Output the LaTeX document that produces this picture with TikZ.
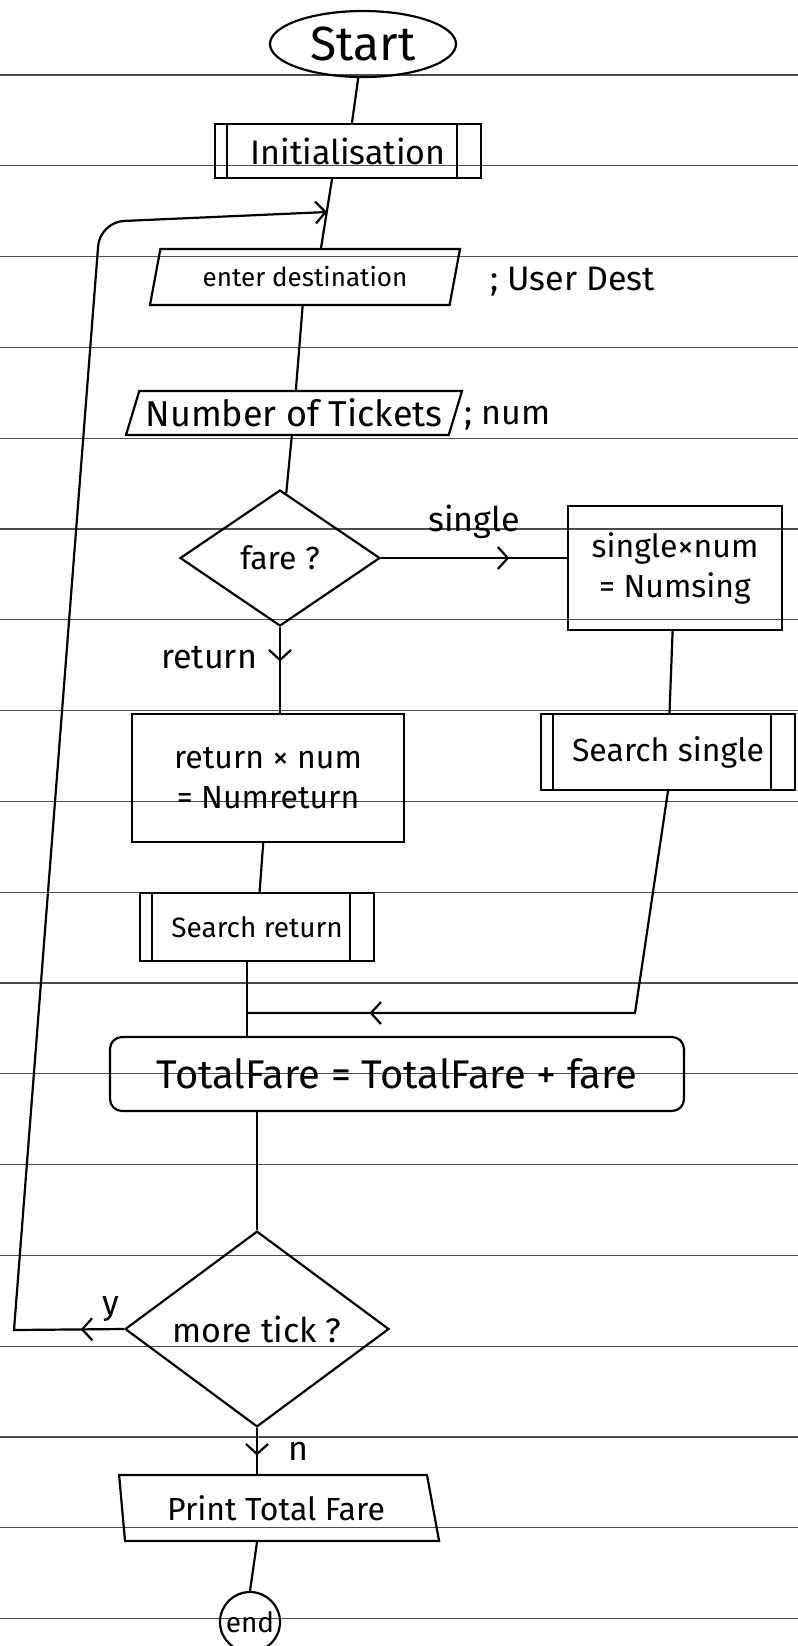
\documentclass[tikz,border=0pt]{standalone}
\usepackage{fontspec}
\setmainfont{Fira Sans}
\usetikzlibrary{shapes.geometric,arrows.meta,decorations.markings}
\tikzset{
  blk/.style   ={draw, line width=1.1pt, align=center, inner sep=2pt},
  term/.style  ={blk, ellipse, minimum width=93pt, minimum height=33pt},
  proc/.style  ={blk, rectangle},
  sub/.style   ={proc, path picture={
                   \draw[line width=1.1pt] ([xshift=6pt]path picture bounding box.north west)
                     -- ([xshift=6pt]path picture bounding box.south west);
                   \draw[line width=1.1pt] ([xshift=-12pt]path picture bounding box.north east)
                     -- ([xshift=-12pt]path picture bounding box.south east);}},
  io/.style    ={blk, trapezium, trapezium stretches body,
                 trapezium left angle=70, trapezium right angle=110},
  dec/.style   ={blk, diamond, inner sep=0pt},
  fin/.style   ={blk, circle, minimum size=30pt, inner sep=0pt},
  fl/.style    ={line width=1.1pt},
  barb/.style  ={-{Straight Barb[length=5pt,width=11pt]}},
  midtip/.style={postaction={decorate}, decoration={markings,
                 mark=at position #1 with {\arrow{Straight Barb[length=5pt,width=11pt]}}}},
  note/.style  ={font=\fontsize{17}{20}\selectfont, inner sep=1pt},
  ruled/.style ={black!70, line width=0.6pt}
}

\begin{document}
\begin{tikzpicture}[x=0.5pt, y=-0.5pt]
  \useasboundingbox (0,0) rectangle (798,1646);
  % the ruled paper
  \foreach \k in {0,...,17}
    \draw[ruled] (0,75+90.8*\k) -- (798,75+90.8*\k);

  \node[term, font=\fontsize{24}{28}\selectfont] (start) at (363,44) {Start};
  \node[sub, minimum width=133pt, minimum height=27pt, font=\fontsize{17}{20}\selectfont] (init) at (348,151) {Initialisation};
  \node[io, minimum width=155pt, minimum height=28pt, font=\fontsize{13}{16}\selectfont] (dest) at (305,277) {enter destination};
  \node[note, anchor=west] (destvar) at (488,282) {; User Dest};
  \node[io, minimum width=168pt, minimum height=22pt, font=\fontsize{18}{21}\selectfont] (num) at (294,413) {Number of Tickets};
  \node[note, anchor=west] (numvar) at (462,418) {; num};
  \node[dec, minimum width=100pt, minimum height=68pt, font=\fontsize{16}{19}\selectfont] (fare) at (280,558) {fare ?};
  \node[proc, minimum width=107pt, minimum height=62pt, font=\fontsize{16}{20}\selectfont] (single) at (675,568) {single×num\\= Numsing};
  \node[proc, minimum width=136pt, minimum height=64pt, font=\fontsize{16}{20}\selectfont] (ret) at (268,778) {return × num\\= Numreturn};
  \node[sub, minimum width=127pt, minimum height=38pt, font=\fontsize{16}{19}\selectfont] (ssing) at (668,752) {Search single};
  \node[sub, minimum width=117pt, minimum height=34pt, font=\fontsize{14}{17}\selectfont] (sret) at (257,927) {Search return};
  \node[proc, rounded corners=6pt, minimum width=287pt, minimum height=37pt, font=\fontsize{20}{24}\selectfont] (total) at (397,1074) {TotalFare = TotalFare + fare};
  \node[dec, minimum width=132pt, minimum height=94pt, font=\fontsize{17}{20}\selectfont] (more) at (257,1329) {more tick ?};
  \node[io, trapezium left angle=100, trapezium right angle=70, minimum width=160pt, minimum height=33pt, font=\fontsize{16}{19}\selectfont] (print) at (276,1508) {Print Total Fare};
  \node[fin, font=\fontsize{14}{17}\selectfont] (finish) at (250,1622) {end};

  \coordinate (entry) at (327,212);
  \coordinate (lbot) at (14,1330);
  \coordinate (ltop) at (100,222);
  \coordinate (jl) at (247,1013);
  \coordinate (jr) at (635,1013);

  \draw[fl] (start) -- (init);
  \draw[fl] ([xshift=-8pt]init.south) -- ([xshift=8pt]dest.north);
  \draw[fl] (dest) -- (num);
  \draw[fl] (num) -- (fare);
  \draw[fl, midtip=0.69] (fare.east) -- (single.west |- fare.east) node[note, midway, above=8pt] {single};
  \draw[fl, midtip=0.4] (fare.south) -- (fare.south |- ret.north) node[note, pos=0.35, left=10pt] {return};
  \draw[fl] (single) -- (ssing);
  \draw[fl] (ret) -- (sret);
  \draw[fl] (jl |- sret.south) -- (jl) -- (jl |- total.north);
  \draw[fl, midtip=0.8] (ssing.south) -- (jr) -- (jl);
  \draw[fl] (total.south -| more.north) -- (more.north);
  \draw[fl, midtip=0.6] (more.south) -- (more.south |- print.north) node[note, pos=0.5, right=14pt] {n};
  \draw[fl] (print.south -| more.south) -- (finish.north);
  % back round for the next ticket
  \draw[fl, barb, midtip=0.03] (more.west) -- (lbot) node[note, pos=0.12, above=2pt] {y}
    [rounded corners=12pt] -- (ltop) -- (entry);
\end{tikzpicture}
\end{document}
